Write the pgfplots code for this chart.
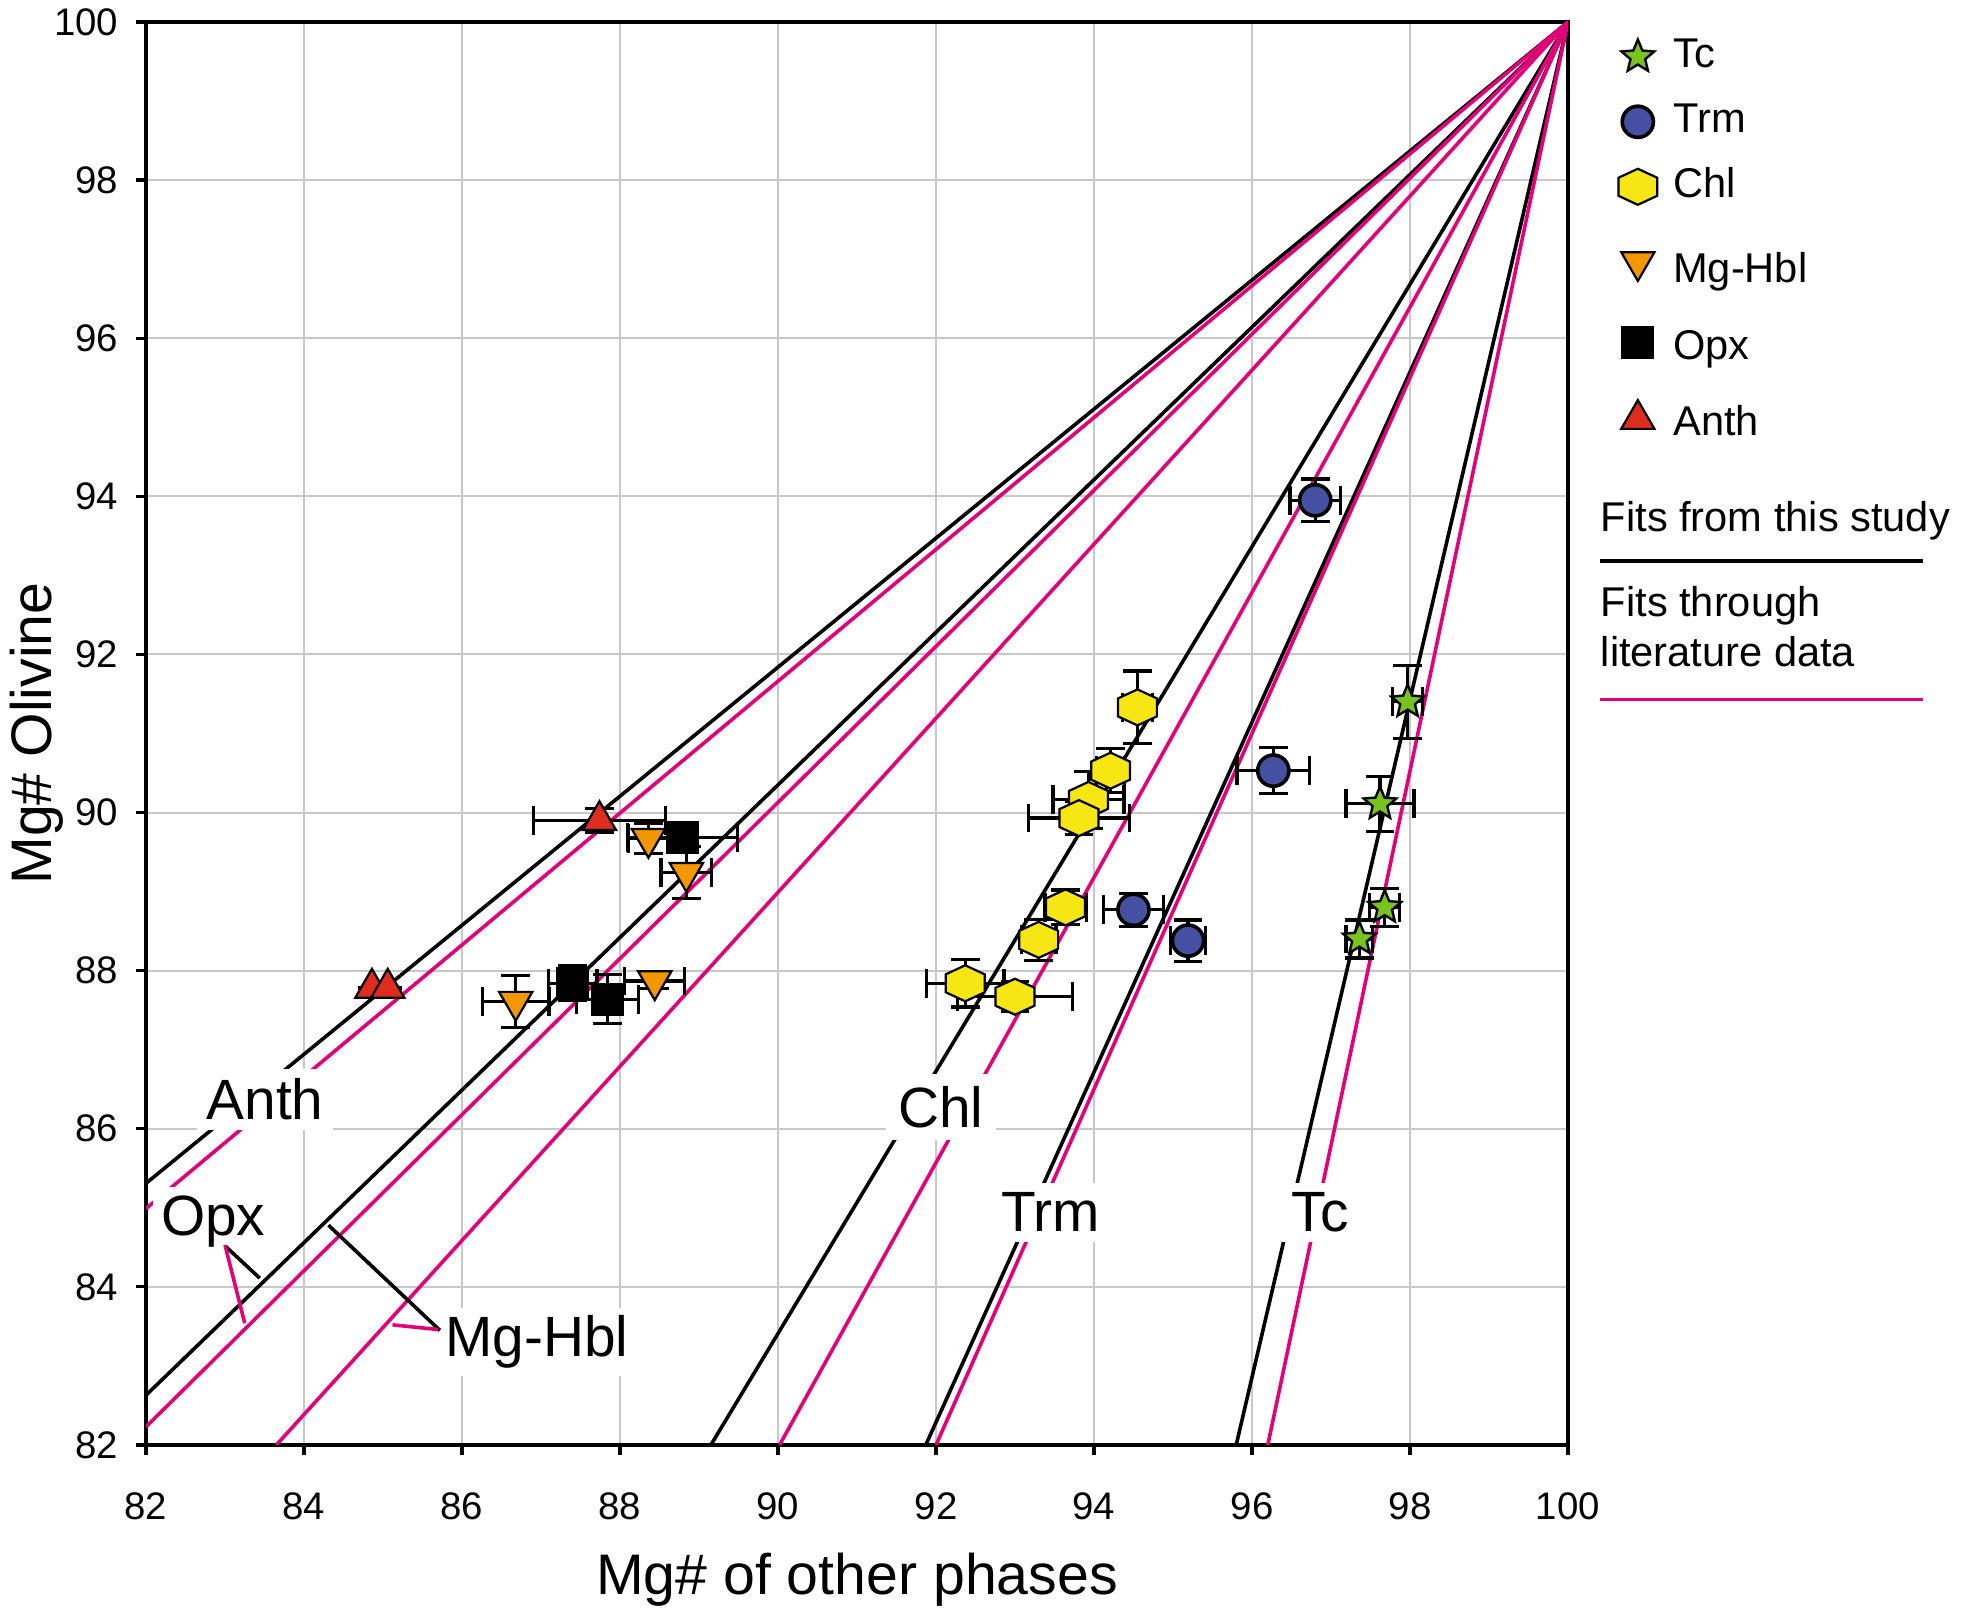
\documentclass[border=0pt]{standalone}
\usepackage{fontspec}
\setmainfont{Liberation Sans}
\usepackage{pgfplots}
\pgfplotsset{compat=1.18}
\definecolor{tcgreen}{RGB}{120,195,30}
\definecolor{trmblue}{RGB}{70,80,163}
\definecolor{chlyellow}{RGB}{245,230,20}
\definecolor{hblorange}{RGB}{243,150,0}
\definecolor{anthred}{RGB}{222,45,30}
\definecolor{litmag}{RGB}{226,0,122}
\definecolor{gridgray}{RGB}{200,200,200}

\pgfdeclareplotmark{fstar}{%
  \pgfpathmoveto{\pgfpointpolar{90}{\pgfplotmarksize}}%
  \pgfpathlineto{\pgfpointpolar{126}{0.45\pgfplotmarksize}}%
  \pgfpathlineto{\pgfpointpolar{162}{\pgfplotmarksize}}%
  \pgfpathlineto{\pgfpointpolar{198}{0.45\pgfplotmarksize}}%
  \pgfpathlineto{\pgfpointpolar{234}{\pgfplotmarksize}}%
  \pgfpathlineto{\pgfpointpolar{270}{0.45\pgfplotmarksize}}%
  \pgfpathlineto{\pgfpointpolar{306}{\pgfplotmarksize}}%
  \pgfpathlineto{\pgfpointpolar{342}{0.45\pgfplotmarksize}}%
  \pgfpathlineto{\pgfpointpolar{18}{\pgfplotmarksize}}%
  \pgfpathlineto{\pgfpointpolar{54}{0.45\pgfplotmarksize}}%
  \pgfpathclose\pgfusepathqfillstroke}
\pgfdeclareplotmark{hexa}{%
  \pgfpathmoveto{\pgfpoint{0pt}{\pgfplotmarksize}}%
  \pgfpathlineto{\pgfpoint{1.08\pgfplotmarksize}{0.5\pgfplotmarksize}}%
  \pgfpathlineto{\pgfpoint{1.08\pgfplotmarksize}{-0.5\pgfplotmarksize}}%
  \pgfpathlineto{\pgfpoint{0pt}{-\pgfplotmarksize}}%
  \pgfpathlineto{\pgfpoint{-1.08\pgfplotmarksize}{-0.5\pgfplotmarksize}}%
  \pgfpathlineto{\pgfpoint{-1.08\pgfplotmarksize}{0.5\pgfplotmarksize}}%
  \pgfpathclose\pgfusepathqfillstroke}

\newcommand{\lab}{\fontsize{14.2}{17}\selectfont}
\newcommand{\leg}{\fontsize{10.4}{12.5}\selectfont}

\pgfplotsset{
  errs/.style={error bars/.cd, x dir=both, x explicit, y dir=both, y explicit,
    error bar style={line width=0.8pt, black, solid},
    error mark options={line width=0.8pt, black, mark size=3.6pt, solid, rotate=90}},
}

\begin{document}
\begin{tikzpicture}
\useasboundingbox (-36.5pt,-42.75pt) rectangle (453.75pt,361.25pt);
\begin{axis}[
  at={(0,0)}, anchor=south west, scale only axis,
  width=355.5pt, height=355.75pt,
  xmin=82, xmax=100, ymin=82, ymax=100,
  xtick={82,84,...,100}, ytick={82,84,...,100},
  xtick pos=left, ytick pos=left,
  grid=major, major grid style={line width=0.5pt, color=gridgray},
  axis line style={line width=0.8pt},
  tick align=outside, major tick length=2.5pt,
  every tick/.style={line width=0.8pt, black},
  tick label style={font=\fontsize{9.6}{11.5}\selectfont},
  /pgf/number format/assume math mode=true,
  xticklabel style={anchor=base, yshift=-16.25pt},
  yticklabel style={anchor=east, inner sep=0pt, xshift=-4.25pt},
  xlabel={Mg\# of other phases}, ylabel={Mg\# Olivine},
  label style={font=\fontsize{14.3}{17}\selectfont},
  xlabel style={at={(axis description cs:0.5,0)}, anchor=base, yshift=-37.5pt},
  ylabel style={at={(axis description cs:0,0.5)}, anchor=base, yshift=23.75pt},
  legend cell align=left,
  legend style={at={(1,1)}, anchor=north west, xshift=9.4pt, yshift=-1.65pt,
    draw=none, fill=none, font=\leg, row sep=6.55pt, column sep=4pt,
    nodes={inner sep=0pt, text height=7.5pt, text depth=2.2pt}},
]
% fits from this study
\addplot[forget plot, black, line width=0.9pt] coordinates {(82,85.31) (100,100)};
\addplot[forget plot, black, line width=0.9pt] coordinates {(82,82.63) (100,100)};
\addplot[forget plot, black, line width=0.9pt] coordinates {(89.15,82) (100,100)};
\addplot[forget plot, black, line width=0.9pt] coordinates {(91.87,82) (100,100)};
\addplot[forget plot, black, line width=0.9pt] coordinates {(95.80,82) (100,100)};
% fits through literature data
\addplot[forget plot, litmag, line width=0.9pt] coordinates {(82,84.99) (100,100)};
\addplot[forget plot, litmag, line width=0.9pt] coordinates {(82,82.23) (100,100)};
\addplot[forget plot, litmag, line width=0.9pt] coordinates {(83.65,82) (100,100)};
\addplot[forget plot, litmag, line width=0.9pt] coordinates {(90.02,82) (100,100)};
\addplot[forget plot, litmag, line width=0.9pt] coordinates {(92.00,82) (100,100)};
\addplot[forget plot, litmag, line width=0.9pt] coordinates {(96.20,82) (100,100)};

% labels
\node[fill=white, inner sep=2.5pt, anchor=base, font=\lab] at (axis cs:83.506,86.111) {Anth};
\node[fill=white, inner sep=2pt, anchor=base, font=\lab] at (axis cs:82.852,84.656) {Opx};
\node[fill=white, inner sep=2pt, anchor=base, font=\lab] at (axis cs:86.946,83.117) {Mg-Hbl};
\node[fill=white, inner sep=3pt, anchor=base, font=\lab] at (axis cs:92.063,86.018) {Chl};
\node[fill=white, inner sep=2.5pt, anchor=base, font=\lab] at (axis cs:93.453,84.698) {Trm};
\node[fill=white, inner sep=2.5pt, anchor=base, font=\lab] at (axis cs:96.861,84.698) {Tc};
\draw[black, line width=0.9pt] (axis cs:83.01,84.51) -- (axis cs:83.44,84.11);
\draw[litmag, line width=0.9pt] (axis cs:83.00,84.53) -- (axis cs:83.25,83.54);
\draw[black, line width=0.9pt] (axis cs:84.31,84.78) -- (axis cs:85.72,83.45);
\draw[litmag, line width=0.9pt] (axis cs:85.12,83.52) -- (axis cs:85.70,83.46);

% data
\addplot[only marks, mark=fstar, mark size=4.3pt,
  mark options={fill=tcgreen, draw=black, line width=0.6pt}, errs]
  coordinates {(97.97,91.40) +- (0.19,0.46) (97.62,90.11) +- (0.43,0.35)
               (97.68,88.80) +- (0.19,0.24) (97.36,88.40) +- (0.17,0.24)};
\addlegendentry{Tc}
\addplot[only marks, mark=*, mark size=3.9pt,
  mark options={fill=trmblue, draw=black, line width=0.9pt}, errs]
  coordinates {(96.80,93.95) +- (0.32,0.27) (96.27,90.53) +- (0.46,0.29)
               (94.50,88.77) +- (0.38,0.21) (95.19,88.38) +- (0.22,0.26)};
\addlegendentry{Trm}
\addplot[only marks, mark=hexa, mark size=4.5pt,
  mark options={fill=chlyellow, draw=black, line width=0.55pt}, errs]
  coordinates {(94.55,91.33) +- (0.19,0.46) (94.21,90.53) +- (0.18,0.28)
               (93.93,90.16) +- (0.45,0.36) (93.81,89.93) +- (0.64,0.21)
               (93.64,88.80) +- (0.26,0.22) (93.30,88.39) +- (0.22,0.26)
               (92.37,87.84) +- (0.49,0.30) (93.00,87.67) +- (0.73,0.19)};
\addlegendentry{Chl}
\addplot[only marks, mark=triangle*, mark size=4.8pt,
  mark options={fill=hblorange, draw=black, line width=0.55pt, rotate=180}, errs]
  coordinates {(88.36,89.67) +- (0.25,0.19) (88.84,89.24) +- (0.32,0.33)
               (88.44,87.87) +- (0.38,0.10) (86.68,87.61) +- (0.42,0.33)};
\addlegendentry[text height=12.5pt]{Mg-Hbl}
\addplot[only marks, mark=square*, mark size=3.9pt,
  mark options={fill=black, draw=black, line width=0.5pt}, errs]
  coordinates {(88.79,89.68) +- (0.70,0.10) (87.40,87.84) +- (0.31,0.22)
               (87.84,87.64) +- (0.39,0.31)};
\addlegendentry[text height=10.5pt]{Opx}
\addplot[only marks, mark=triangle*, mark size=4.8pt,
  mark options={fill=anthred, draw=black, line width=0.55pt}, errs]
  coordinates {(87.74,89.90) +- (0.84,0.15) (84.86,87.78) +- (0,0)
               (85.06,87.78) +- (0,0)};
\addlegendentry[text height=10.25pt]{Anth}
\end{axis}
\node[anchor=base west, inner sep=0pt, font=\leg] at (363.5pt,228.25pt) {Fits from this study};
\draw[line width=0.8pt] (363.5pt,221pt) -- (444.25pt,221pt);
\node[anchor=base west, inner sep=0pt, font=\leg] at (363.5pt,207pt) {Fits through};
\node[anchor=base west, inner sep=0pt, font=\leg] at (363.5pt,194.6pt) {literature data};
\draw[line width=0.8pt, litmag] (363.5pt,186.4pt) -- (444.25pt,186.4pt);
\end{tikzpicture}
\end{document}
